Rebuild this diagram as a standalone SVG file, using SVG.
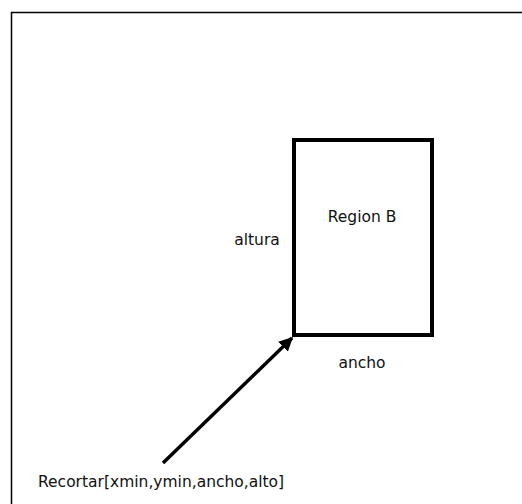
<svg xmlns="http://www.w3.org/2000/svg" width="522" height="504" viewBox="0 0 522 504">
  <style>
    .lbl { font-family: "DejaVu Sans", Verdana, sans-serif; font-size: 15.5px; fill: #111; }
  </style>
  <defs>
    <marker id="head" viewBox="0 0 10 10" refX="9" refY="5" markerWidth="4" markerHeight="4" orient="auto" markerUnits="strokeWidth">
      <path d="M0,0 L10,5 L0,10 Z" fill="#000"/>
    </marker>
  </defs>
  <rect width="522" height="504" fill="#fff"/>
  <!-- outer frame -->
  <rect x="11.5" y="12.5" width="530" height="520" fill="none" stroke="#000" stroke-width="1.5"/>
  <g id="regionB">
    <rect x="294" y="140" width="138" height="195" fill="none" stroke="#000" stroke-width="4"/>
    <text class="lbl" x="362" y="222" text-anchor="middle">Region B</text>
  </g>
  <g id="labels">
    <text class="lbl" x="257" y="245" text-anchor="middle">altura</text>
    <text class="lbl" x="362" y="368" text-anchor="middle">ancho</text>
    <text class="lbl" x="38" y="487">Recortar[xmin,ymin,ancho,alto]</text>
  </g>
  <g id="connectors">
    <line x1="163" y1="463" x2="292" y2="338" stroke="#000" stroke-width="3.5" marker-end="url(#head)"/>
  </g>
</svg>
